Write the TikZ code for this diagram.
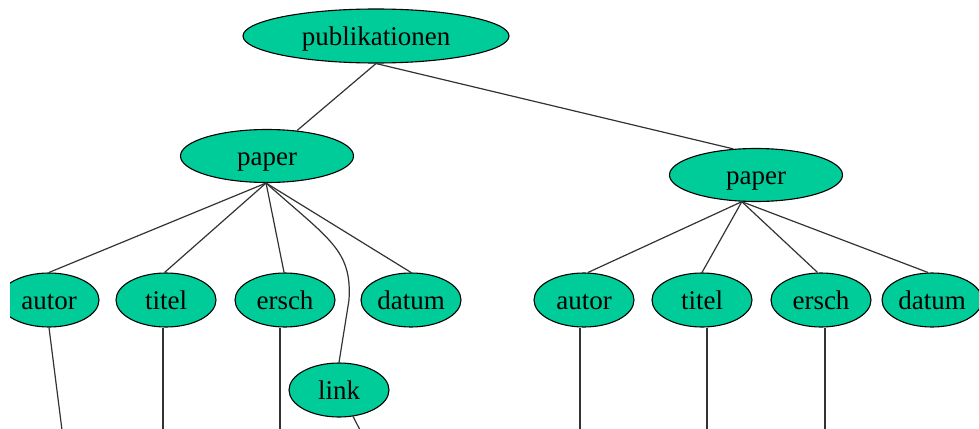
\documentclass[tikz,border=0pt]{standalone}
\usepackage{fontspec}
\setmainfont{Liberation Serif}
\usetikzlibrary{shapes.geometric}
\definecolor{nodegreen}{RGB}{0,204,153}
\begin{document}
\begin{tikzpicture}[x=1pt,y=-1pt,
  blob/.style={ellipse,draw=black,line width=1.1pt,fill=nodegreen,
    inner sep=0pt,text height=19pt,text depth=0pt,
    font=\fontsize{27}{27}\selectfont},
  big/.style={blob,minimum width=266pt,minimum height=54pt},
  mid/.style={blob,minimum width=173pt,minimum height=53pt},
  small/.style={blob,minimum width=100pt,minimum height=54pt},
  link/.style={line width=1.2pt,draw=black!80}]
\useasboundingbox (0,0) rectangle (979,428);
\clip (10,0) rectangle (979,428);
% tree nodes
\node[big]   (pub) at (376,36) {publikationen};
\node[mid]   (pa)  at (267,156) {paper};
\node[mid]   (pb)  at (756,175) {paper};
\node[small] (a1)  at (49,300)  {autor};
\node[small] (t1)  at (166,300) {titel};
\node[small] (e1)  at (285,300) {ersch};
\node[small] (d1)  at (411,300) {datum};
\node[small] (l1)  at (339,390) {link};
\node[small] (a2)  at (584,300) {autor};
\node[small] (t2)  at (702,300) {titel};
\node[small] (e2)  at (821,300) {ersch};
\node[small] (d2)  at (932,300) {datum};
% loose ends below the visible area
\coordinate (za) at (62,430);
\coordinate (zt) at (163,430);
\coordinate (ze) at (280,430);
\coordinate (zl) at (360,430);
\coordinate (zb) at (580,430);
\coordinate (zc) at (707,430);
\coordinate (zd) at (825,430);
% connectors
\draw[link] (pub.south) -- (pa);
\draw[link] (pub.south) -- (pb.131);
\draw[link] (pa.268) -- (a1.north);
\draw[link] (pa.268) -- (t1.93);
\draw[link] (pa.268) -- (e1.92);
\draw[link] (pa.268) -- (d1.north);
\draw[link] (pa.268) .. controls (330,240) and (352,250) .. (349,300) -- (l1.north);
\draw[link] (pb.242) -- (a2.82);
\draw[link] (pb.242) -- (t2.north);
\draw[link] (pb.242) -- (e2.97);
\draw[link] (pb.242) -- (d2.98);
\draw[link] (a1.south) -- (za);
\draw[link] (t1.south -| zt) -- (zt);
\draw[link] (e1.south -| ze) -- (ze);
\draw[link] (l1.-62) -- (zl);
\draw[link] (a2.south -| zb) -- (zb);
\draw[link] (t2.south -| zc) -- (zc);
\draw[link] (e2.south -| zd) -- (zd);
\end{tikzpicture}
\end{document}
